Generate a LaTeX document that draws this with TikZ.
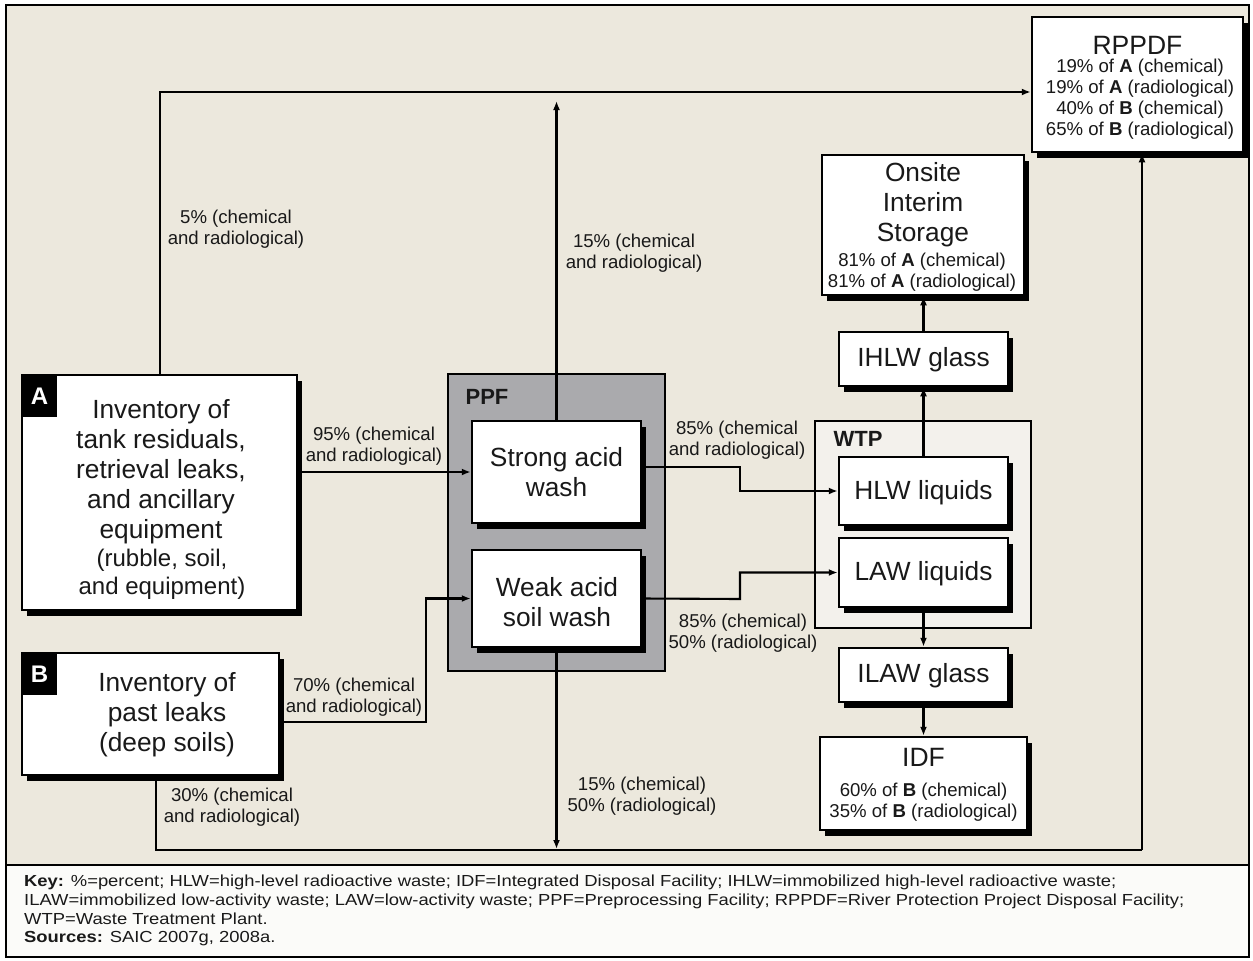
\documentclass[tikz,border=0pt]{standalone}
\usepackage{fontspec}
\setmainfont{Liberation Sans}
\usetikzlibrary{arrows.meta,shadows}
\definecolor{bgbeige}{RGB}{236,232,221}
\definecolor{keybg}{RGB}{251,251,249}
\definecolor{ppfgray}{RGB}{170,170,173}
\definecolor{wtpfill}{RGB}{243,241,236}
\definecolor{inkc}{RGB}{25,25,25}
\newcommand\fsbig{\fontsize{26.3}{30}\selectfont}
\newcommand\fsmid{\fontsize{24}{28}\selectfont}
\newcommand\fstitle{\fontsize{26.5}{30}\selectfont}
\newcommand\fslab{\fontsize{18.6}{21}\selectfont}
\newcommand\fskey{\fontsize{16}{18.7}\selectfont}
\newcommand\keyline[1]{\scalebox{1.15}[1]{#1}}
\begin{document}
\begin{tikzpicture}[x=1pt,y=-1pt,
  box/.style={draw=black, line width=2.5pt, fill=white, inner sep=0pt,
    drop shadow={shadow xshift=5pt,shadow yshift=-6pt,fill=black,opacity=1}},
  grp/.style={draw=black, line width=2.2pt, inner sep=0pt},
  tag/.style={fill=black, text=white, inner sep=0pt, font=\fontsize{24}{24}\selectfont\bfseries},
  txt/.style={align=center, inner sep=0pt, text=inkc, font=\fsbig},
  sub/.style={align=center, inner sep=0pt, text=inkc, font=\fslab},
  lab/.style={align=center, inner sep=0pt, text=inkc, font=\fslab},
  conn/.style={line width=2.1pt, draw=black},
  arr/.style={conn, -{Latex[length=9pt,width=7pt]}}
]
\useasboundingbox (0,0) rectangle (1253,961);
% backgrounds and frame
\fill[bgbeige] (6,5) rectangle (1249,865);
\fill[keybg] (6,865) rectangle (1249,957);
\draw[line width=1.8pt] (6,5) rectangle (1249,957);
\draw[line width=1.8pt] (6,865) -- (1249,865);

% group boxes
\node[grp, fill=ppfgray, minimum width=217pt, minimum height=297pt] (PPF) at (556.5,522.5) {};
\node[inner sep=0pt, font=\fontsize{22}{22}\selectfont\bfseries, text=inkc] (PPFl) at (487,397) {PPF};
\node[grp, fill=wtpfill, minimum width=216pt, minimum height=207pt] (WTP) at (923,524.5) {};
\node[inner sep=0pt, font=\fontsize{22}{22}\selectfont\bfseries, text=inkc] (WTPl) at (858,439) {WTP};

% main boxes
\node[box, minimum width=275pt, minimum height=235pt] (A) at (159.5,492.5) {};
\node[tag, minimum width=35pt, minimum height=42pt] (Atag) at (39.5,396) {A};
\node[txt] (At1) at (161,472) {Inventory of\\tank residuals,\\retrieval leaks,\\and ancillary\\equipment};
\node[txt, font=\fsmid] (At2) at (162,574) {(rubble, soil,\\and equipment)};

\node[box, minimum width=257pt, minimum height=122pt] (B) at (150.5,714) {};
\node[tag, minimum width=35pt, minimum height=42pt] (Btag) at (39.5,674) {B};
\node[txt] (Bt) at (167,715) {Inventory of\\past leaks\\(deep soils)};

\node[box, minimum width=169pt, minimum height=102pt] (Strong) at (556.5,472) {};
\node[txt] (Strongt) at (556.5,472.5) {Strong acid\\wash};
\node[box, minimum width=169pt, minimum height=97pt] (Weak) at (556.5,598.5) {};
\node[txt] (Weakt) at (557,602) {Weak acid\\soil wash};

\node[box, minimum width=169pt, minimum height=68pt] (HLW) at (923.5,491) {};
\node[txt] (HLWt) at (923.5,493) {HLW liquids};
\node[box, minimum width=169pt, minimum height=69pt] (LAW) at (923.5,572.5) {};
\node[txt] (LAWt) at (923.5,574) {LAW liquids};
\node[box, minimum width=169pt, minimum height=54pt] (ILAW) at (923.5,675) {};
\node[txt] (ILAWt) at (923.5,676) {ILAW glass};
\node[box, minimum width=207pt, minimum height=93pt] (IDF) at (923.5,783.5) {};
\node[txt, font=\fstitle] (IDFt) at (923.5,757) {IDF};
\node[sub] (IDFs) at (923.5,802) {60\% of \textbf{B} (chemical)\\35\% of \textbf{B} (radiological)};
\node[box, minimum width=169pt, minimum height=54pt] (IHLW) at (923.5,359) {};
\node[txt] (IHLWt) at (923.5,360) {IHLW glass};
\node[box, minimum width=202pt, minimum height=140pt] (Onsite) at (923,225) {};
\node[txt] (Onsitet) at (923,204.5) {Onsite\\Interim\\Storage};
\node[sub] (Onsites) at (922,272.5) {81\% of \textbf{A} (chemical)\\81\% of \textbf{A} (radiological)};
\node[box, minimum width=211pt, minimum height=135pt] (RPPDF) at (1137.5,84.5) {};
\node[txt, font=\fstitle] (RPt) at (1137.5,45) {RPPDF};
\node[sub] (RPs) at (1140,99.5) {19\% of \textbf{A} (chemical)\\19\% of \textbf{A} (radiological)\\40\% of \textbf{B} (chemical)\\65\% of \textbf{B} (radiological)};

% helper coordinates
\coordinate (topline) at (160,92);
\coordinate (botline) at (156,850);
\coordinate (rightx) at (1142,850);
\coordinate (bjog) at (426,722);
\coordinate (sjog) at (740,467);
\coordinate (wjog) at (740,599);
\coordinate (uptip) at (556.5,101);
\coordinate (dntip) at (556.5,849);

% connectors
\draw[arr] (A.north -| topline) |- (RPPDF.west |- topline);
\draw[arr] (Strong.north) -- (uptip);
\draw[arr] (A.east |- Strong.west) -- (Strong.west);
\draw[arr] (B.east |- bjog) -- (bjog) |- (Weak.west);
\draw[conn] (B.south -| botline) -- (botline) -- (rightx);
\draw[arr] (rightx) -- (RPPDF.south -| rightx);
\draw[arr] (Weak.south) -- (dntip);
\draw[arr] (Strong.east |- sjog) -- (sjog) |- (HLW.west);
\draw[arr] (Weak.east) -- (wjog) |- (LAW.west);
\draw[arr] (HLW.north -| HLWt) -- (IHLW.south);
\draw[arr] (IHLW.north) -- (Onsite.south -| IHLW.north);
\draw[arr] (LAW.south) -- (ILAW.north);
\draw[arr] (ILAW.south) -- (IDF.north);

% connector labels
\node[lab] (l5) at (236,229) {5\% (chemical\\and radiological)};
\node[lab] (l15u) at (634,253) {15\% (chemical\\and radiological)};
\node[lab] (l95) at (374,446) {95\% (chemical\\and radiological)};
\node[lab] (l70) at (354,697) {70\% (chemical\\and radiological)};
\node[lab] (l30) at (232,807) {30\% (chemical\\and radiological)};
\node[lab] (l15d) at (642,796) {15\% (chemical)\\50\% (radiological)};
\node[lab] (l85a) at (737,440) {85\% (chemical\\and radiological)};
\node[lab] (l85b) at (743,633) {85\% (chemical)\\50\% (radiological)};

% key
\node[anchor=north west, align=left, inner sep=0pt, text=inkc, font=\fskey] (key) at (24,875) {\keyline{\textbf{Key:} \%=percent; HLW=high-level radioactive waste; IDF=Integrated Disposal Facility; IHLW=immobilized high-level radioactive waste;}\\
\keyline{ILAW=immobilized low-activity waste; LAW=low-activity waste; PPF=Preprocessing Facility; RPPDF=River Protection Project Disposal Facility;}\\
\keyline{WTP=Waste Treatment Plant.}\\
\keyline{\textbf{Sources:} SAIC 2007g, 2008a.}};
\end{tikzpicture}
\end{document}
